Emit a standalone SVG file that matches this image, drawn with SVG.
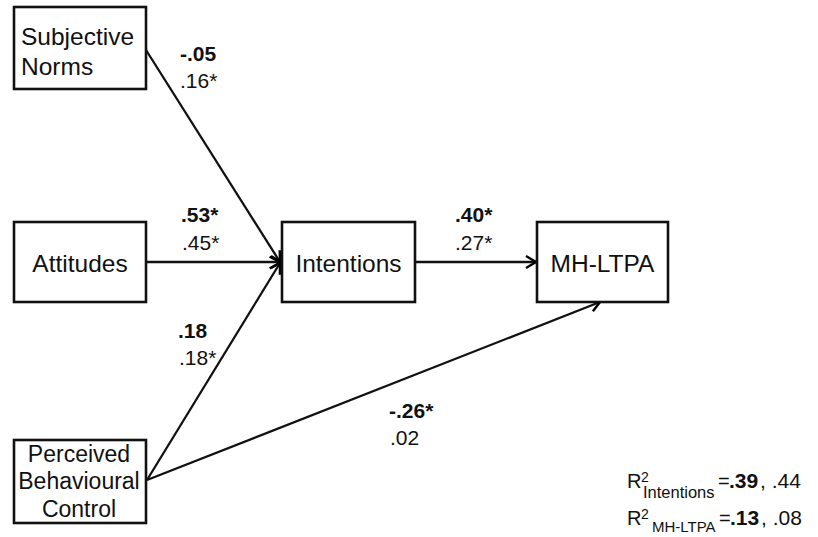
<svg xmlns="http://www.w3.org/2000/svg" width="818" height="537" viewBox="0 0 818 537">
<defs>
<marker id="arr" markerUnits="userSpaceOnUse" markerWidth="16" markerHeight="16" refX="12" refY="8" orient="auto">
<path d="M2,2 L12,8 L2,14" fill="none" stroke="#000" stroke-width="2.4" stroke-linejoin="miter"/>
</marker>
</defs>
<style>
.box{fill:#fff;stroke:#111;stroke-width:2.6}
.lbl{font-family:"Liberation Sans",Arial,sans-serif;font-size:24.5px;fill:#111}
.pbc{font-family:"Liberation Sans",Arial,sans-serif;font-size:23px;fill:#111;text-anchor:middle}
.num{font-family:"Liberation Sans",Arial,sans-serif;font-size:21px;fill:#111}
.b{font-weight:bold}
.edge{stroke:#111;stroke-width:2.3;fill:none;marker-end:url(#arr)}
.r{font-family:"Liberation Sans",Arial,sans-serif;fill:#111}
</style>
<rect width="818" height="537" fill="#fff"/>
<g id="connectors">
<line class="edge" x1="146" y1="50" x2="280" y2="262"/>
<line class="edge" x1="146" y1="262" x2="281" y2="262"/>
<line class="edge" x1="147" y1="480" x2="280" y2="263"/>
<line class="edge" x1="415" y1="262" x2="536" y2="262"/>
<line class="edge" x1="147" y1="480" x2="600" y2="302"/>
</g>
<g id="subjective-norms">
<rect class="box" x="14" y="7" width="132" height="82"/>
<text class="lbl" x="21" y="45">Subjective</text>
<text class="lbl" x="21" y="75">Norms</text>
</g>
<g id="attitudes">
<rect class="box" x="14" y="222" width="132" height="80"/>
<text class="lbl" x="80" y="272" text-anchor="middle">Attitudes</text>
</g>
<g id="intentions">
<rect class="box" x="282" y="222" width="133" height="80"/>
<text class="lbl" x="348.5" y="272" text-anchor="middle">Intentions</text>
</g>
<g id="mh-ltpa">
<rect class="box" x="537" y="222" width="131" height="80"/>
<text class="lbl" x="602.5" y="272" text-anchor="middle">MH-LTPA</text>
</g>
<g id="pbc">
<rect class="box" x="14" y="440" width="132" height="83"/>
<text class="pbc" x="79" y="462">Perceived</text>
<text class="pbc" x="79" y="489">Behavioural</text>
<text class="pbc" x="79" y="517">Control</text>
</g>
<g id="labels">
<text class="num b" x="180" y="61">-.05</text>
<text class="num" x="180" y="88">.16*</text>
<text class="num b" x="181" y="222">.53*</text>
<text class="num" x="182" y="250">.45*</text>
<text class="num b" x="178" y="338">.18</text>
<text class="num" x="179" y="365">.18*</text>
<text class="num b" x="455" y="222">.40*</text>
<text class="num" x="455" y="250">.27*</text>
<text class="num b" x="389" y="418">-.26*</text>
<text class="num" x="390" y="445">.02</text>
</g>
<g id="r-squared">
<text class="r" x="627" y="488" font-size="20">R</text>
<text class="r" x="641" y="482" font-size="14">2</text>
<text class="r" x="643" y="498" font-size="16.5">Intentions</text>
<text class="r" x="718" y="488" font-size="20">=</text>
<text class="r b" x="729" y="488" font-size="21">.39</text>
<text class="r" x="760" y="488" font-size="21">, .44</text>
<text class="r" x="627" y="525" font-size="20">R</text>
<text class="r" x="641" y="519" font-size="14">2</text>
<text class="r" x="652" y="532" font-size="15">MH-LTPA</text>
<text class="r" x="719" y="525" font-size="20">=</text>
<text class="r b" x="730" y="525" font-size="21">.13</text>
<text class="r" x="761" y="525" font-size="21">, .08</text>
</g>
</svg>
